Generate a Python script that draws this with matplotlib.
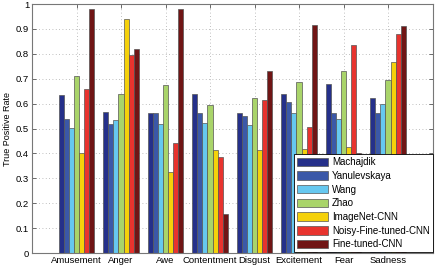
import numpy as np
import matplotlib.pyplot as plt

plt.rcParams['font.family'] = ['Liberation Sans', 'DejaVu Sans']

categories = ['Amusement', 'Anger', 'Awe', 'Contentment', 'Disgust', 'Excitement', 'Fear', 'Sadness']
methods = ['Machajdik', 'Yanulevskaya', 'Wang', 'Zhao', 'ImageNet-CNN', 'Noisy-Fine-tuned-CNN', 'Fine-tuned-CNN']

machajdik = [0.636, 0.568, 0.563, 0.637, 0.563, 0.637, 0.679, 0.622]
yanulevskaya = [0.537, 0.519, 0.561, 0.561, 0.549, 0.605, 0.561, 0.561]
wang = [0.502, 0.534, 0.518, 0.521, 0.514, 0.561, 0.537, 0.598]
zhao = [0.712, 0.637, 0.675, 0.596, 0.621, 0.688, 0.732, 0.695]
imagenet_cnn = [0.400, 0.938, 0.324, 0.414, 0.414, 0.416, 0.427, 0.766]
noisy_ft_cnn = [0.657, 0.794, 0.440, 0.386, 0.614, 0.505, 0.835, 0.880]
ft_cnn = [0.981, 0.818, 0.981, 0.157, 0.731, 0.916, 0.403, 0.912]

series = [machajdik, yanulevskaya, wang, zhao, imagenet_cnn, noisy_ft_cnn, ft_cnn]
colors = ['#25308a', '#3b58a8', '#66c8f0', '#a9d46a', '#f5d10a', '#e8332e', '#701515']

fig = plt.figure(figsize=(4.36, 2.67), dpi=100)
ax = fig.add_axes([0.0734, 0.0524, 0.9186, 0.9326])

x = np.arange(1, len(categories) + 1)
n = len(series)
w = 0.8 / n
for i, vals in enumerate(series):
    ax.bar(x - 0.4 + w * (i + 0.5), vals, width=w, color=colors[i],
           edgecolor='#555555', linewidth=0.5, label=methods[i], zorder=2)

ax.set_xlim(0, 9)
ax.set_ylim(0, 1)
ax.set_xticks(x)
ax.set_xticklabels(categories)
yt = np.round(np.arange(0, 1.01, 0.1), 1)
ax.set_yticks(yt)
ax.set_yticklabels(['0' if v == 0 else ('1' if v == 1 else f'{v:g}') for v in yt])
ax.set_ylabel('True Positive Rate', fontsize=6.5, labelpad=3)

ax.set_axisbelow(True)
ax.grid(True, linestyle=(0, (1, 3)), color='#aaaaaa', linewidth=0.6)
ax.tick_params(direction='in', top=True, right=True, length=3, width=0.6,
               labelsize=6.8, pad=2, color='#555555')
for s in ax.spines.values():
    s.set_color('#777777')
    s.set_linewidth(0.8)

leg = ax.legend(loc='lower right', bbox_to_anchor=(1.0, 0.003), fontsize=7,
                handlelength=3.2, handleheight=0.95, labelspacing=0.38,
                handletextpad=0.38, borderpad=0.3, borderaxespad=0,
                fancybox=False, framealpha=1, edgecolor='black')
leg.get_frame().set_linewidth(0.6)

fig.savefig('out.png', dpi=100)
